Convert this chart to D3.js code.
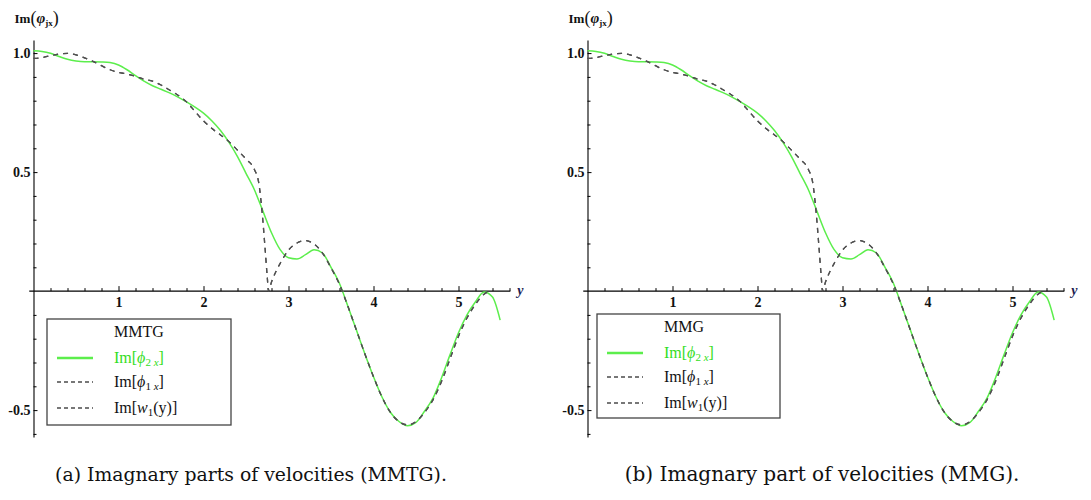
<!DOCTYPE html>
<html>
<head>
<meta charset="utf-8">
<script src="https://cdnjs.cloudflare.com/ajax/libs/d3/7.8.5/d3.min.js"></script>
<style>
  body { margin: 0; background: #fff; }
  svg { display: block; }
</style>
</head>
<body>
<svg id="chart" width="1091" height="500"></svg>
<script>
// ---- data ----
const xGreen = [0, 0.1, 0.2, 0.3, 0.4, 0.5, 0.6, 0.7, 0.8, 0.9, 1.0, 1.1, 1.2, 1.3, 1.4, 1.5, 1.6, 1.7, 1.8, 1.9,
  2.0, 2.1, 2.2, 2.3, 2.4, 2.5, 2.6, 2.7, 2.8, 2.9, 3.0, 3.1, 3.2, 3.3, 3.4, 3.5, 3.6, 3.7, 3.8, 3.9,
  4.0, 4.1, 4.2, 4.3, 4.4, 4.5, 4.6, 4.7, 4.8, 4.9, 5.0, 5.1, 5.2, 5.3, 5.4, 5.49];
const phi2x = [1.010, 1.007, 0.999, 0.986, 0.974, 0.967, 0.964, 0.964, 0.963, 0.960, 0.950, 0.930, 0.905, 0.882, 0.863, 0.848, 0.833, 0.815, 0.795, 0.773,
  0.748, 0.715, 0.675, 0.625, 0.565, 0.495, 0.425, 0.335, 0.245, 0.175, 0.140, 0.135, 0.153, 0.174, 0.160, 0.100, 0.032, -0.065, -0.165, -0.265,
  -0.360, -0.445, -0.510, -0.548, -0.566, -0.552, -0.505, -0.450, -0.365, -0.268, -0.175, -0.100, -0.045, -0.004, -0.025, -0.122];

const xDash = [0, 0.1, 0.2, 0.3, 0.4, 0.5, 0.6, 0.7, 0.8, 0.9, 1.0, 1.1, 1.2, 1.3, 1.4, 1.5, 1.6, 1.7, 1.8, 1.9,
  2.0, 2.1, 2.2, 2.3, 2.4, 2.5, 2.6, 2.65, 2.69, 2.72, 2.75, 2.765, 2.8, 2.86, 2.9, 3.0, 3.1, 3.2, 3.3, 3.4, 3.5, 3.6,
  3.7, 3.8, 3.9, 4.0, 4.1, 4.2, 4.3, 4.4, 4.5, 4.6, 4.7, 4.8, 4.9, 5.0, 5.1, 5.2, 5.3, 5.38];
const phi1x = [0.978, 0.981, 0.989, 0.996, 0.999, 0.993, 0.980, 0.965, 0.947, 0.930, 0.919, 0.912, 0.902, 0.890, 0.882, 0.866, 0.845, 0.823, 0.795, 0.755,
  0.715, 0.683, 0.656, 0.628, 0.592, 0.555, 0.510, 0.455, 0.330, 0.200, 0.060, 0.000, 0.038, 0.088, 0.115, 0.172, 0.202, 0.212, 0.198, 0.160, 0.098, 0.028,
  -0.065, -0.165, -0.265, -0.360, -0.445, -0.510, -0.548, -0.562, -0.548, -0.510, -0.457, -0.380, -0.285, -0.190, -0.113, -0.055, -0.013, 0.000];
const w1y = [0.978, 0.981, 0.989, 0.996, 0.999, 0.993, 0.980, 0.965, 0.947, 0.930, 0.919, 0.912, 0.902, 0.890, 0.882, 0.866, 0.845, 0.823, 0.795, 0.755,
  0.715, 0.683, 0.656, 0.628, 0.592, 0.555, 0.510, 0.455, 0.330, 0.200, 0.060, 0.000, 0.038, 0.088, 0.115, 0.172, 0.202, 0.212, 0.198, 0.160, 0.098, 0.028,
  -0.065, -0.165, -0.265, -0.360, -0.445, -0.510, -0.548, -0.562, -0.548, -0.510, -0.457, -0.380, -0.285, -0.190, -0.113, -0.055, -0.013, 0.000];

const xMajorTicks = [1, 2, 3, 4, 5];
const yMajorTicks = [-0.5, 0.5, 1.0];
const yTickLabels = ['-0.5', '0.5', '1.0'];
const panelTitles = ['MMTG', 'MMG'];
const captions = ['(a)  Imagnary parts of velocities (MMTG).', '(b)  Imagnary part of velocities (MMG).'];

const GREEN = '#5cee4c';
const DASH = '#505050';

const svg = d3.select('#chart');

const panels = [
  { x0: 33.5, legend: { x: 47, y: 319, w: 184, h: 106 }, capX: 251 },
  { x0: 587.5, legend: { x: 597, y: 314, w: 183, h: 104 }, capX: 822 },
];

const drawPanel = (p, i) => {
  const g = svg.append('g');
  const x = d3.scaleLinear().domain([0, 5.61]).range([p.x0, p.x0 + 5.61 * 85]);
  const y = d3.scaleLinear().domain([-0.613, 1.055]).range([437, 40]);

  // x axis (ticks point up, labels below)
  const xMinor = d3.range(0.2, 5.61, 0.2).filter(v => Math.abs(v - Math.round(v)) > 0.01);
  g.append('g')
    .attr('transform', `translate(0,${y(0)})`)
    .call(d3.axisBottom(x).tickValues(xMinor).tickSizeInner(-3).tickSizeOuter(0).tickFormat(''))
    .call(a => a.select('.domain').remove());
  g.append('g')
    .attr('transform', `translate(0,${y(0)})`)
    .call(d3.axisBottom(x).tickValues(xMajorTicks).tickSizeInner(-5).tickSizeOuter(0).tickPadding(6).tickFormat(d3.format('d')))
    .call(a => a.select('.domain').attr('d', `M${x(-0.05)},0H${x(5.61)}`));

  // y axis (ticks point right, labels left)
  const yMinor = d3.range(-6, 11).map(v => v / 10).filter(v => Math.abs(v * 2 - Math.round(v * 2)) > 0.01);
  g.append('g')
    .attr('transform', `translate(${x(0)},0)`)
    .call(d3.axisLeft(y).tickValues(yMinor).tickSizeInner(-3).tickSizeOuter(0).tickFormat(''))
    .call(a => a.select('.domain').remove());
  g.append('g')
    .attr('transform', `translate(${x(0)},0)`)
    .call(d3.axisLeft(y).tickValues(yMajorTicks).tickSizeInner(-4).tickSizeOuter(0).tickPadding(3)
      .tickFormat((d, k) => yTickLabels[k]));

  g.selectAll('.tick line').attr('stroke', '#000').attr('stroke-width', 1);
  g.selectAll('.domain').attr('stroke', '#000').attr('stroke-width', 1.1);
  g.selectAll('.tick text')
    .attr('font-family', '"Liberation Serif", serif')
    .attr('font-weight', 'bold')
    .attr('font-size', 14)
    .attr('fill', '#111');

  // axis labels
  const yl = g.append('text')
    .attr('x', p.x0 - 19).attr('y', 23)
    .attr('font-family', '"Liberation Serif", serif')
    .attr('font-weight', 'bold').attr('font-size', 13).attr('fill', '#111');
  yl.append('tspan').text('Im');
  yl.append('tspan').attr('font-size', 18).attr('font-weight', 'normal').attr('dy', 1).text('(');
  yl.append('tspan').attr('font-style', 'italic').attr('font-size', 15).attr('dy', -1).text('φ');
  yl.append('tspan').attr('font-size', 9).attr('dy', 3).text('jx');
  yl.append('tspan').attr('font-size', 18).attr('font-weight', 'normal').attr('dy', -2).text(')');

  g.append('text')
    .attr('x', x(5.61) + 7).attr('y', y(0) + 4)
    .attr('font-family', '"Liberation Serif", serif')
    .attr('font-style', 'italic').attr('font-weight', 'bold')
    .attr('font-size', 14).attr('fill', '#1a2050')
    .text('y');

  // curves
  const line = d3.line().x(d => x(d[0])).y(d => y(d[1])).curve(d3.curveMonotoneX);
  g.append('path')
    .attr('d', line(d3.zip(xGreen, phi2x)))
    .attr('fill', 'none').attr('stroke', GREEN).attr('stroke-width', 1.5);
  [phi1x, w1y].forEach(series => {
    g.append('path')
      .attr('d', line(d3.zip(xDash, series)))
      .attr('fill', 'none').attr('stroke', DASH).attr('stroke-width', 1.3)
      .attr('stroke-dasharray', '5,5');
  });

  // legend
  const L = p.legend;
  const lg = g.append('g').attr('transform', `translate(${L.x},${L.y})`);
  lg.append('rect')
    .attr('width', L.w).attr('height', L.h)
    .attr('fill', '#fff').attr('stroke', '#444').attr('stroke-width', 1.3);
  const tx = 67;
  const font = '"Liberation Serif", serif';
  lg.append('text').attr('x', tx).attr('y', 18)
    .attr('font-family', font).attr('font-size', 16).attr('fill', '#111')
    .text(panelTitles[i]);

  const rows = [
    { y: 39, dash: null, lc: GREEN, tc: '#33dd22', kind: 'phi', sub: '2 ' },
    { y: 63, dash: '4,3', lc: '#777', tc: '#111', kind: 'phi', sub: '1 ' },
    { y: 89, dash: '4,3', lc: '#777', tc: '#111', kind: 'w', sub: '1' },
  ];
  rows.forEach(r => {
    lg.append('line')
      .attr('x1', 10).attr('x2', 46).attr('y1', r.y).attr('y2', r.y)
      .attr('stroke', r.lc).attr('stroke-width', r.dash ? 2 : 2.5)
      .attr('stroke-dasharray', r.dash);
    const t = lg.append('text').attr('x', tx).attr('y', r.y + 5)
      .attr('font-family', font).attr('font-size', 16).attr('fill', r.tc);
    t.append('tspan').text('Im[');
    if (r.kind === 'phi') {
      t.append('tspan').attr('font-style', 'italic').text('ϕ');
      t.append('tspan').attr('font-size', 11).attr('dy', 3).text(r.sub);
      t.append('tspan').attr('font-size', 11).attr('font-style', 'italic').text('x');
      t.append('tspan').attr('dy', -3).text(']');
    } else {
      t.append('tspan').attr('font-style', 'italic').text('w');
      t.append('tspan').attr('font-size', 11).attr('dy', 3).text(r.sub);
      t.append('tspan').attr('dy', -3).text('(y)]');
    }
  });

  // caption
  const cap = g.append('text')
    .attr('x', p.capX).attr('y', 481)
    .attr('text-anchor', 'middle')
    .attr('font-family', '"DejaVu Serif", serif')
    .attr('font-size', 16).attr('fill', '#111')
    .text(captions[i]);
  const w = cap.node().getComputedTextLength();
  const target = i === 0 ? 392 : 395;
  cap.attr('font-size', 16 * target / w);
};

panels.forEach(drawPanel);
</script>
</body>
</html>
